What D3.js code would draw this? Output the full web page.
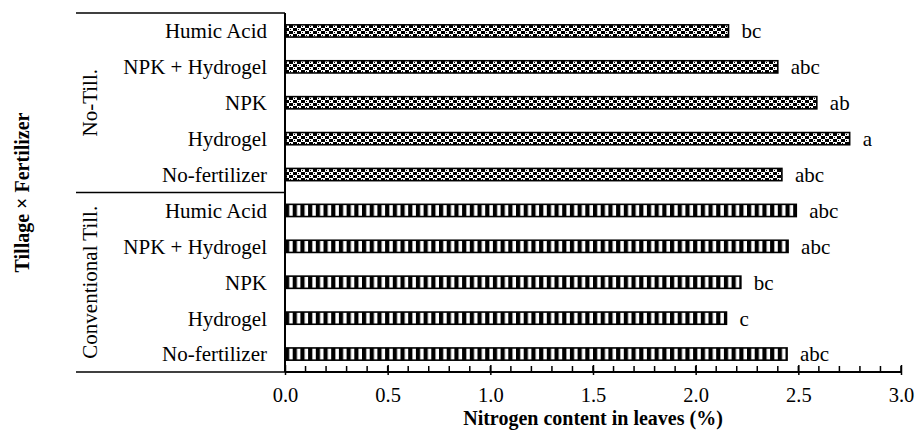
<!DOCTYPE html>
<html>
<head>
<meta charset="utf-8">
<script src="https://cdn.jsdelivr.net/npm/d3@7"></script>
<style>
  body { margin: 0; background: #fff; }
  svg text { font-family: "Liberation Serif", "Times New Roman", Times, serif !important; fill: #000; }
</style>
</head>
<body>
<div id="chart"></div>
<script>
// data (top row first)
var groups = ["No-Till.", "Conventional Till."];
var fertilizers = ["Humic Acid", "NPK + Hydrogel", "NPK", "Hydrogel", "No-fertilizer"];
var noTillValues = [2.16, 2.40, 2.59, 2.75, 2.42];
var noTillLetters = ["bc", "abc", "ab", "a", "abc"];
var convTillValues = [2.49, 2.45, 2.22, 2.15, 2.445];
var convTillLetters = ["abc", "abc", "bc", "c", "abc"];
var xTicks = [0, 0.5, 1.0, 1.5, 2.0, 2.5, 3.0];

var svgWidth = 917, svgHeight = 433;
var margin = { top: 13, right: 16, bottom: 61, left: 285 };
var width = svgWidth - margin.left - margin.right;
var height = svgHeight - margin.top - margin.bottom;
var serif = "'Liberation Serif', 'Times New Roman', serif";

// rows: build from the small arrays
var rows = [];
fertilizers.forEach(function(f, i) {
  rows.push({ key: "NT-" + i, group: 0, label: f, value: noTillValues[i], letter: noTillLetters[i] });
});
fertilizers.forEach(function(f, i) {
  rows.push({ key: "CT-" + i, group: 1, label: f, value: convTillValues[i], letter: convTillLetters[i] });
});

var svg = d3.select("#chart").append("svg")
  .attr("width", svgWidth)
  .attr("height", svgHeight)
  .attr("font-family", serif);

// fill patterns
var defs = svg.append("defs");
var pNT = defs.append("pattern")
  .attr("id", "patNT")
  .attr("patternUnits", "userSpaceOnUse")
  .attr("width", 8).attr("height", 6);
pNT.append("rect").attr("width", 8).attr("height", 6).attr("fill", "#000");
pNT.append("rect").attr("x", 0).attr("y", 0).attr("width", 4).attr("height", 3).attr("fill", "#fff");
pNT.append("rect").attr("x", 4).attr("y", 3).attr("width", 4).attr("height", 3).attr("fill", "#fff");
pNT.append("rect").attr("x", 1).attr("y", 1).attr("width", 1).attr("height", 1).attr("fill", "#000");
pNT.append("rect").attr("x", 5).attr("y", 4).attr("width", 1).attr("height", 1).attr("fill", "#000");

var pCT = defs.append("pattern")
  .attr("id", "patCT")
  .attr("patternUnits", "userSpaceOnUse")
  .attr("width", 7.7).attr("height", 8);
pCT.append("rect").attr("width", 7.7).attr("height", 8).attr("fill", "#fff");
pCT.append("rect").attr("x", 0).attr("width", 4.2).attr("height", 8).attr("fill", "#000");

var chartGroup = svg.append("g")
  .attr("transform", `translate(${margin.left}, ${margin.top})`);

var x = d3.scaleLinear().domain([0, 3]).range([0, 616]);
var y = d3.scaleBand()
  .domain(rows.map(d => d.key))
  .range([0, height])
  .paddingInner(0.66)
  .paddingOuter(0.33);

// bars
chartGroup.selectAll(".bar")
  .data(rows)
  .enter()
  .append("rect")
  .attr("class", "bar")
  .attr("x", x(0) + 1)
  .attr("y", d => y(d.key))
  .attr("width", d => x(d.value) - x(0) - 1)
  .attr("height", y.bandwidth())
  .attr("fill", d => d.group === 0 ? "url(#patNT)" : "url(#patCT)")
  .attr("stroke", "#000")
  .attr("stroke-width", 1.6);

// letters
chartGroup.selectAll(".letter")
  .data(rows)
  .enter()
  .append("text")
  .attr("class", "letter")
  .attr("x", d => x(d.value) + 13)
  .attr("y", d => y(d.key) + y.bandwidth() / 2)
  .attr("dy", "0.35em")
  .style("font-family", serif)
  .style("font-size", "21px")
  .text(d => d.letter);

// category labels
chartGroup.selectAll(".cat")
  .data(rows)
  .enter()
  .append("text")
  .attr("class", "cat")
  .attr("x", -18)
  .attr("y", d => y(d.key) + y.bandwidth() / 2)
  .attr("dy", "0.35em")
  .attr("text-anchor", "end")
  .style("font-family", serif)
  .style("font-size", "21px")
  .text(d => d.label);

// x axis with minor ticks
var minorTicks = d3.range(0, 31).map(d => d / 10);
chartGroup.append("g")
  .attr("transform", `translate(0, ${height})`)
  .selectAll("line")
  .data(minorTicks)
  .enter()
  .append("line")
  .attr("x1", d => x(d)).attr("x2", d => x(d))
  .attr("y1", -6).attr("y2", 0)
  .attr("stroke", "#000").attr("stroke-width", 1.5);

var bottomAxis = d3.axisBottom(x)
  .tickValues(xTicks)
  .tickFormat(d3.format(".1f"))
  .tickSizeInner(3)
  .tickSizeOuter(0)
  .tickPadding(12);
var xAxis = chartGroup.append("g")
  .attr("transform", `translate(0, ${height})`)
  .call(bottomAxis)
  .attr("font-family", serif);
xAxis.select(".domain").attr("stroke", "#000").attr("stroke-width", 2).attr("d", `M0,0H${x(3)}`);
xAxis.selectAll(".tick line").attr("stroke-width", 1.5).attr("y1", -7);
xAxis.selectAll(".tick text")
  .style("font-family", serif)
  .style("font-size", "20.5px");

// vertical axis line
chartGroup.append("line")
  .attr("x1", 0).attr("x2", 0)
  .attr("y1", 0).attr("y2", height)
  .attr("stroke", "#000").attr("stroke-width", 2);

// group separators
var groupEdges = [0, y("CT-0") - y.step() * 0.33, height];
chartGroup.selectAll(".sep")
  .data(groupEdges)
  .enter()
  .append("line")
  .attr("x1", -209).attr("x2", 0)
  .attr("y1", d => d).attr("y2", d => d)
  .attr("stroke", "#000").attr("stroke-width", 1.6);

// group labels (rotated)
chartGroup.selectAll(".grp")
  .data(groups)
  .enter()
  .append("text")
  .attr("class", "grp")
  .attr("transform", (d, i) => `translate(-195, ${(groupEdges[i] + groupEdges[i + 1]) / 2}) rotate(-90)`)
  .attr("dy", "0.35em")
  .attr("text-anchor", "middle")
  .style("font-family", serif)
  .style("font-size", "21px")
  .text(d => d);

// axis titles
svg.append("text")
  .attr("transform", `translate(22, ${margin.top + height / 2}) rotate(-90)`)
  .attr("dy", "0.35em")
  .attr("text-anchor", "middle")
  .style("font-family", serif)
  .style("font-size", "20px")
  .style("font-weight", "bold")
  .text("Tillage × Fertilizer");

svg.append("text")
  .attr("x", margin.left + x(1.5))
  .attr("y", 425)
  .attr("text-anchor", "middle")
  .style("font-family", serif)
  .style("font-size", "20px")
  .style("font-weight", "bold")
  .text("Nitrogen content in leaves (%)");
</script>
</body>
</html>
